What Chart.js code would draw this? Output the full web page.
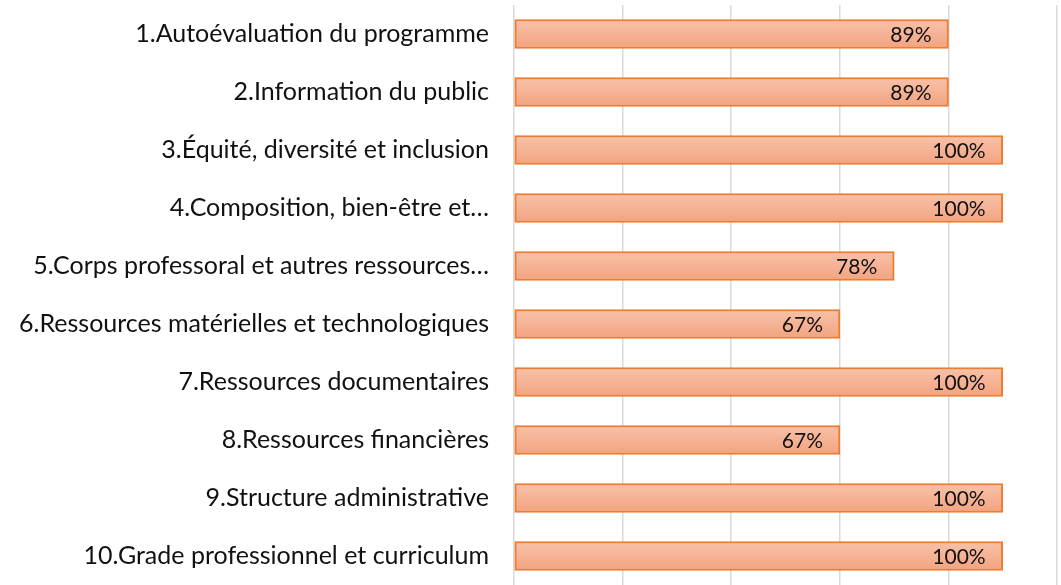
<!DOCTYPE html>
<html>
<head>
<meta charset="utf-8">
<script src="https://cdn.jsdelivr.net/npm/chart.js@4"></script>
<style>
  html, body { margin: 0; padding: 0; background: #fff; }
  #wrap { width: 1061px; height: 585px; }
</style>
</head>
<body>
<div id="wrap"><canvas id="graficoBarras" width="1061" height="585"></canvas></div>
<script>
const categorias = [
    '1.Autoévaluation du programme',
    '2.Information du public',
    '3.Équité, diversité et inclusion',
    '4.Composition, bien-être et…',
    '5.Corps professoral et autres ressources…',
    '6.Ressources matérielles et technologiques',
    '7.Ressources documentaires',
    '8.Ressources financières',
    '9.Structure administrative',
    '10.Grade professionnel et curriculum'
];
// pourcentages
const valeurs = [88.9, 88.9, 100, 100, 77.8, 66.7, 100, 66.7, 100, 100];
const graduations = [0, 22.22, 44.44, 66.67, 88.89, 111.11];

const FUENTE = 'Lato, "Open Sans", sans-serif';

// etiquetas dentro del extremo de la barra
const etiquetas = {
    id: 'etiquetas',
    afterDatasetsDraw(chart) {
        const ctx = chart.ctx;
        const meta = chart.getDatasetMeta(0);
        ctx.save();
        ctx.font = '21px ' + FUENTE;
        ctx.fillStyle = '#111';
        ctx.textAlign = 'right';
        ctx.textBaseline = 'middle';
        meta.data.forEach((barra, i) => {
            ctx.fillText(Math.round(valeurs[i]) + '%', barra.x - 17, barra.y + 1);
        });
        ctx.restore();
    }
};

document.addEventListener('DOMContentLoaded', function() {
    const ctx = document.getElementById('graficoBarras').getContext('2d');

    new Chart(ctx, {
        type: 'bar',
        data: {
            labels: categorias,
            datasets: [{
                data: valeurs,
                backgroundColor: function(c) {
                    const chart = c.chart;
                    const y = chart.scales.y;
                    if (!y || c.dataIndex === undefined) return '#F5B090';
                    const cy = y.getPixelForValue(c.dataIndex);
                    if (!isFinite(cy)) return '#F5B090';
                    const g = chart.ctx.createLinearGradient(0, cy - 15, 0, cy + 15);
                    g.addColorStop(0, '#F8C2A9');
                    g.addColorStop(1, '#F2A380');
                    return g;
                },
                borderColor: '#ED7D31',
                borderWidth: 2,
                borderSkipped: false,
                barThickness: 29
            }]
        },
        plugins: [etiquetas],
        options: {
            indexAxis: 'y',
            responsive: false,
            animation: false,
            events: [],
            plugins: {
                legend: { display: false },
                tooltip: { enabled: false }
            },
            scales: {
                x: {
                    min: 0,
                    max: 111.11,
                    afterBuildTicks: function(scale) {
                        scale.ticks = graduations.map(v => ({ value: v }));
                    },
                    afterFit: function(scale) {
                        scale.height = 0;
                    },
                    grid: {
                        color: '#D9D9D9',
                        lineWidth: 1.5,
                        drawTicks: false
                    },
                    border: { display: false },
                    ticks: { display: false }
                },
                y: {
                    grid: { display: false },
                    border: { display: false },
                    afterFit: function(scale) {
                        scale.width = 514;
                        scale.paddingTop = 0;
                        scale.paddingBottom = 0;
                    },
                    ticks: {
                        color: '#111',
                        padding: 17,
                        font: { family: FUENTE, size: 25 }
                    }
                }
            },
            layout: {
                padding: { top: 5, right: 4, bottom: -2, left: 0 }
            }
        }
    });
});
</script>
</body>
</html>
